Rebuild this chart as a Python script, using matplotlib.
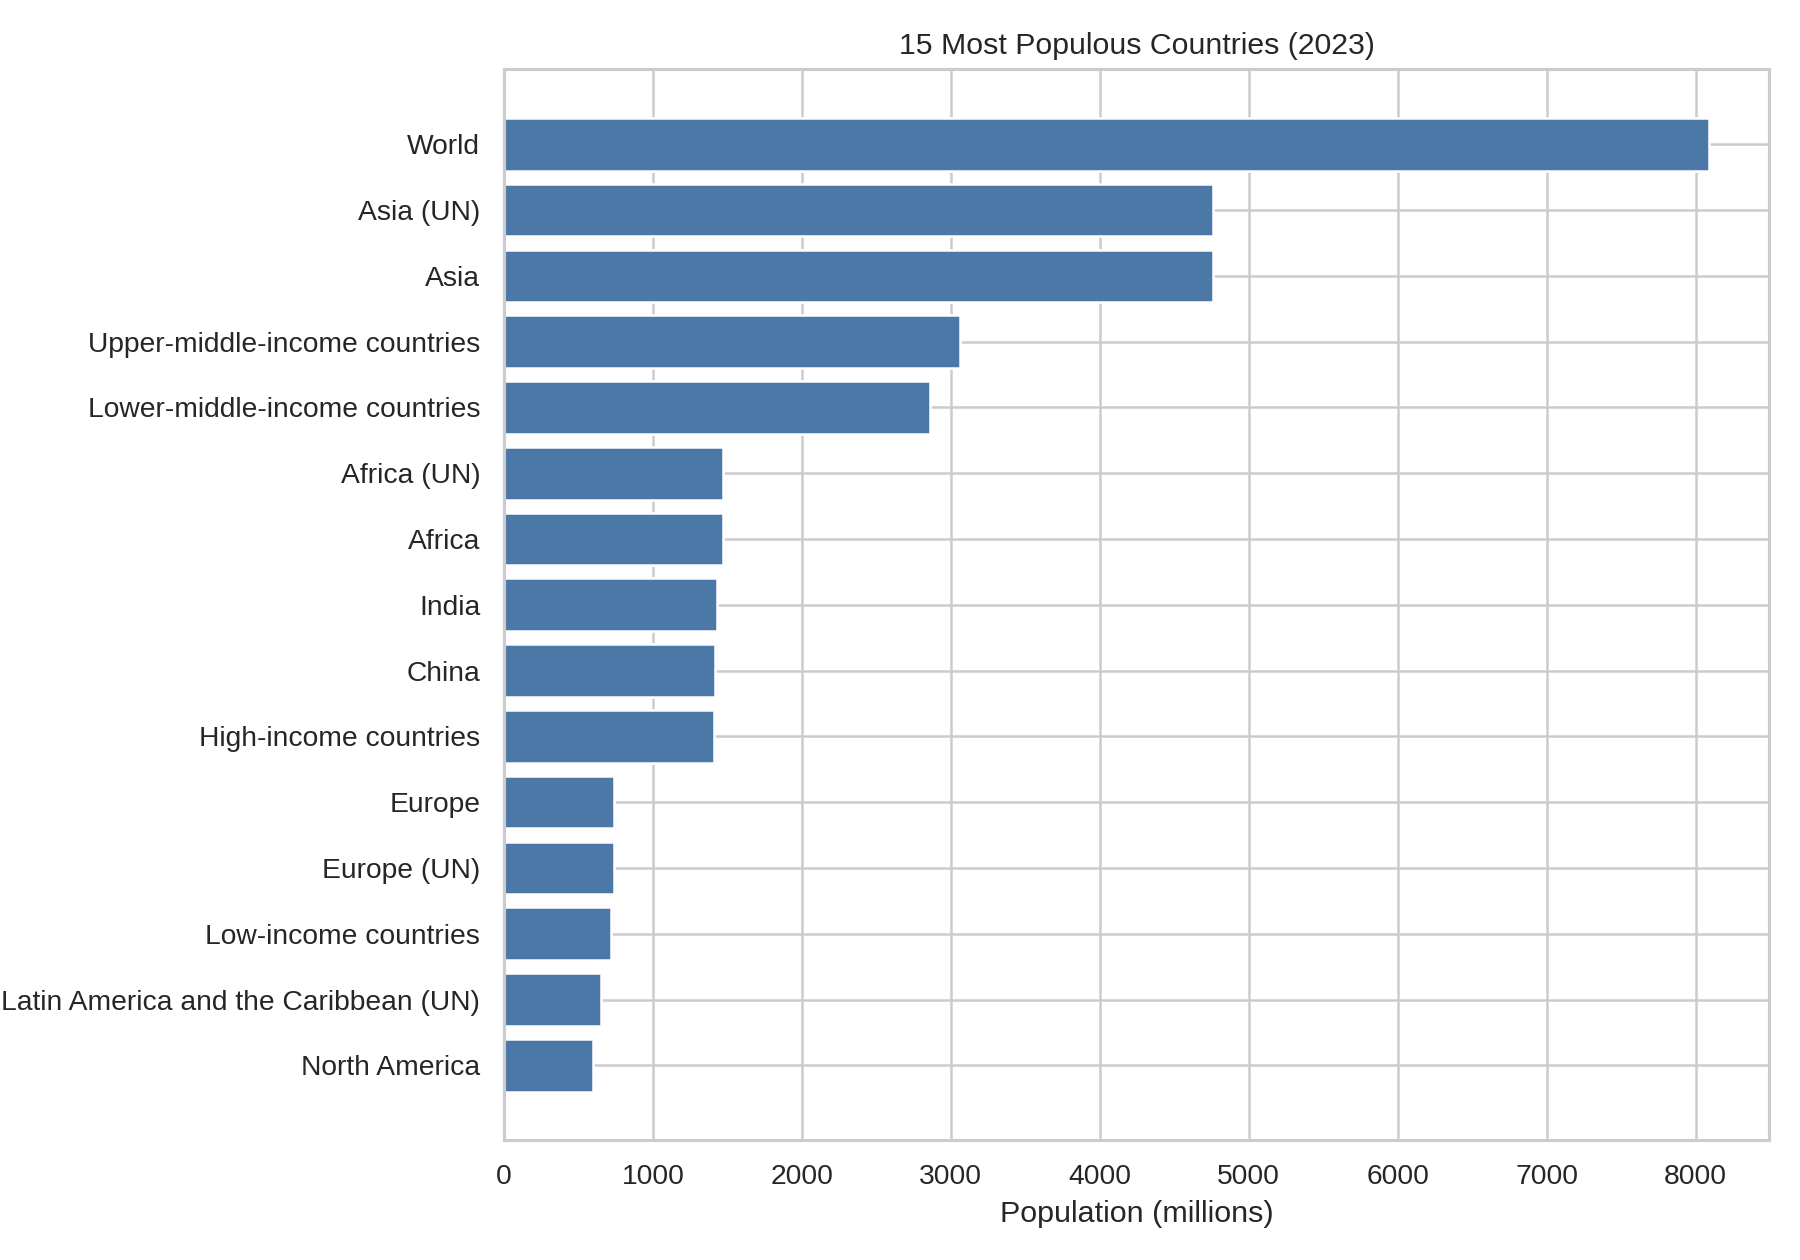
import matplotlib
matplotlib.use("Agg")
import matplotlib.pyplot as plt
import seaborn as sns

# 2023 population, millions
countries = [
    "World", "Asia (UN)", "Asia", "Upper-middle-income countries",
    "Lower-middle-income countries", "Africa (UN)", "Africa", "India",
    "China", "High-income countries", "Europe", "Europe (UN)",
    "Low-income countries", "Latin America and the Caribbean (UN)",
    "North America",
]
population = [
    8091, 4760, 4760, 3060, 2860, 1468, 1468, 1430,
    1416, 1410, 736, 736, 716, 652, 598,
]

sns.set_theme(style="whitegrid")
plt.rcParams['font.family'] = ['Liberation Sans', 'DejaVu Sans']

fig, ax = plt.subplots(figsize=(10, 7), dpi=180)
ax.barh(countries[::-1], population[::-1], color="#4c78a8", height=0.8)
ax.set_xlabel("Population (millions)", fontsize=12.2)
ax.set_title("15 Most Populous Countries (2023)", fontsize=12.1)
ax.tick_params(axis="both", labelsize=11.3)

fig.subplots_adjust(left=0.28, right=0.983, top=0.945, bottom=0.095)
fig.savefig("out.png", dpi=180)
